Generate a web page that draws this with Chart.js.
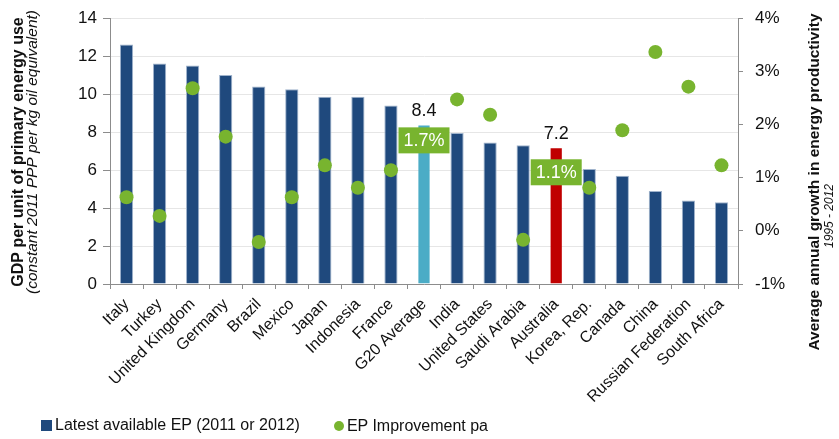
<!DOCTYPE html>
<html>
<head>
<meta charset="utf-8">
<script src="https://cdn.jsdelivr.net/npm/chart.js@4.4.1/dist/chart.umd.min.js"></script>
<style>
  html, body { margin: 0; padding: 0; background: #fff; }
  #wrap { position: relative; width: 839px; height: 439px; }
  #legend { position: absolute; left: 41px; top: 416px; font-family: "Liberation Sans", Arial, sans-serif; font-size: 16px; color: #111; white-space: nowrap; }
  #legend span.item { display: inline-flex; align-items: center; margin-right: 34px; }
  #legend .sq { display: inline-block; width: 11px; height: 11px; margin-right: 3px; }
  #legend .dot { display: inline-block; width: 10px; height: 10px; border-radius: 50%; margin-right: 3px; }
</style>
</head>
<body>
<div id="wrap">
  <canvas id="c" width="839" height="439"></canvas>
  <div id="legend"></div>
</div>
<script>
// ---- data ----
const categories = ["Italy","Turkey","United Kingdom","Germany","Brazil","Mexico","Japan","Indonesia","France","G20 Average","India","United States","Saudi Arabia","Australia","Korea, Rep.","Canada","China","Russian Federation","South Africa"];
const epLatest = [12.6, 11.6, 11.5, 11.0, 10.4, 10.25, 9.85, 9.85, 9.4, 8.4, 7.95, 7.45, 7.3, 7.2, 6.05, 5.7, 4.9, 4.4, 4.3];
const epImprovement = [0.63, 0.28, 2.68, 1.77, -0.21, 0.63, 1.23, 0.81, 1.14, 1.7, 2.47, 2.18, -0.17, 1.1, 0.81, 1.89, 3.36, 2.71, 1.23];
const leftTicks = [0, 2, 4, 6, 8, 10, 12, 14];
const rightTicks = [-1, 0, 1, 2, 3, 4];
const highlighted = ["G20 Average", "Australia"];
const seriesNames = ["Latest available EP (2011 or 2012)", "EP Improvement pa"];

const BLUE = "#1f497d", LIGHTBLUE = "#4bacc6", RED = "#c00000", GREEN = "#78b42f";
const FONT = "'Liberation Sans', Arial, sans-serif";
const barColors = categories.map(c => c === "G20 Average" ? LIGHTBLUE : (c === "Australia" ? RED : BLUE));
const barBorders = categories.map(c => (c === "G20 Average" || c === "Australia") ? "rgba(0,0,0,0)" : "#9fb3cc");

const annotate = {
  id: "annotate",
  afterDatasetsDraw(chart) {
    const ctx = chart.ctx;
    const barMeta = chart.getDatasetMeta(0);
    const ptMeta = chart.getDatasetMeta(1);
    ctx.save();
    highlighted.forEach(name => {
      const i = categories.indexOf(name);
      const bar = barMeta.data[i];
      ctx.font = "18px " + FONT;
      ctx.fillStyle = "#111";
      ctx.textAlign = "center";
      ctx.textBaseline = "alphabetic";
      ctx.fillText(epLatest[i].toFixed(1), bar.x, bar.y - 8);
      const pt = ptMeta.data[i];
      const w = 51, h = 26;
      ctx.fillStyle = GREEN;
      ctx.fillRect(pt.x - w / 2, pt.y - h / 2, w, h);
      ctx.fillStyle = "#fff";
      ctx.textBaseline = "middle";
      ctx.fillText(epImprovement[i].toFixed(1) + "%", pt.x, pt.y + 1);
    });
    ctx.restore();
  },
  afterDraw(chart) {
    const ctx = chart.ctx;
    ctx.save();
    ctx.fillStyle = "#111";
    ctx.textAlign = "center";
    ctx.textBaseline = "middle";
    const vtext = (txt, x, y, font) => {
      ctx.save();
      ctx.translate(x, y);
      ctx.rotate(-Math.PI / 2);
      ctx.font = font;
      ctx.fillText(txt, 0, 0);
      ctx.restore();
    };
    vtext("GDP per unit of primary energy use", 19, 152, "bold 16px " + FONT);
    vtext("(constant 2011 PPP per kg oil equivalent)", 33, 152, "italic 15.5px " + FONT);
    vtext("Average annual growth in energy productivity", 815, 182, "bold 15.5px " + FONT);
    vtext("1995 - 2012", 830, 216, "italic 12px " + FONT);
    ctx.restore();
  }
};

const chart = new Chart(document.getElementById("c"), {
  data: {
    labels: categories,
    datasets: [
      {
        type: "bar",
        label: seriesNames[0],
        data: epLatest,
        yAxisID: "y",
        backgroundColor: barColors,
        borderColor: barBorders,
        borderWidth: 1,
        barPercentage: 0.5,
        categoryPercentage: 0.8,
        order: 2
      },
      {
        type: "line",
        label: seriesNames[1],
        data: epImprovement,
        yAxisID: "y1",
        showLine: false,
        pointRadius: 7,
        pointHoverRadius: 7,
        pointBackgroundColor: GREEN,
        pointBorderWidth: 0,
        order: 1
      }
    ]
  },
  options: {
    responsive: false,
    animation: false,
    events: [],
    layout: { padding: { top: 18, left: 0, right: 0, bottom: 0 } },
    plugins: { legend: { display: false }, tooltip: { enabled: false } },
    scales: {
      x: {
        grid: { offset: true, drawOnChartArea: false, tickLength: 5, color: "#8c8c8c" },
        border: { color: "#8c8c8c" },
        ticks: { minRotation: 45, maxRotation: 45, color: "#111", font: { family: FONT, size: 16 }, padding: 6, autoSkip: false },
        afterFit(s) { s.height = 155; s.paddingLeft = 0; s.paddingRight = 0; }
      },
      y: {
        position: "left",
        min: 0, max: 14,
        afterBuildTicks(s) { s.ticks = leftTicks.map(v => ({ value: v })); },
        grid: { color: "#e6e6e6", tickColor: "#8c8c8c", tickLength: 7 },
        border: { color: "#8c8c8c" },
        ticks: { color: "#111", font: { family: FONT, size: 17 }, padding: 6 },
        afterFit(s) { s.width = 110; s.paddingTop = 0; s.paddingBottom = 0; }
      },
      y1: {
        position: "right",
        min: -1, max: 4,
        afterBuildTicks(s) { s.ticks = rightTicks.map(v => ({ value: v })); },
        grid: { drawOnChartArea: false, color: "#8c8c8c", tickLength: 5 },
        border: { color: "#8c8c8c" },
        ticks: { color: "#111", font: { family: FONT, size: 17 }, padding: 12, callback: v => v + "%" },
        afterFit(s) { s.width = 101; s.paddingTop = 0; s.paddingBottom = 0; }
      }
    }
  },
  plugins: [annotate]
});

// HTML legend from dataset names
const lg = document.getElementById("legend");
lg.innerHTML =
  '<span class="item"><span class="sq" style="background:' + BLUE + '"></span>' + seriesNames[0] + '</span>' +
  '<span class="item"><span class="dot" style="background:' + GREEN + '"></span>' + seriesNames[1] + '</span>';
</script>
</body>
</html>
